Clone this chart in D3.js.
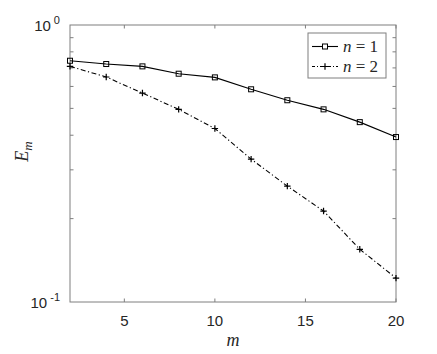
<!DOCTYPE html>
<html>
<head>
<meta charset="utf-8">
<script src="https://cdn.jsdelivr.net/npm/d3@7"></script>
<style>
  body { margin: 0; background: #fff; }
  svg { display: block; }
</style>
</head>
<body>
<svg id="chart" width="437" height="354"></svg>
<script>
const mValues = [2, 4, 6, 8, 10, 12, 14, 16, 18, 20];
const errN1 = [0.743, 0.723, 0.709, 0.667, 0.647, 0.586, 0.535, 0.496, 0.446, 0.394];
const errN2 = [0.709, 0.649, 0.568, 0.496, 0.423, 0.328, 0.262, 0.213, 0.155, 0.122];
const xTicks = [5, 10, 15, 20];
const yMajor = [0.1, 1];
const yMinor = [0.2, 0.3, 0.4, 0.5, 0.6, 0.7, 0.8, 0.9];

const margin = { top: 25, right: 41, bottom: 52, left: 70 };
const width = 437 - margin.left - margin.right;
const height = 354 - margin.top - margin.bottom;
const axisColor = "#7f7f7f";
const tickLen = 3.5;
const serif = "Liberation Serif, Times New Roman, serif";
const sans = "Liberation Sans, Arial, sans-serif";

const svg = d3.select("#chart");
const g = svg.append("g").attr("transform", `translate(${margin.left},${margin.top})`);

const x = d3.scaleLinear().domain([2, 20]).range([0, width]);
const y = d3.scaleLog().domain([0.1, 1]).range([height, 0]);

// frame
g.append("rect")
    .attr("width", width).attr("height", height)
    .attr("fill", "none").attr("stroke", axisColor).attr("stroke-width", 1);

// x ticks, bottom and top
xTicks.forEach(t => {
    g.append("line").attr("x1", x(t)).attr("x2", x(t)).attr("y1", height).attr("y2", height - tickLen)
        .attr("stroke", axisColor);
    g.append("line").attr("x1", x(t)).attr("x2", x(t)).attr("y1", 0).attr("y2", tickLen)
        .attr("stroke", axisColor);
    g.append("text")
        .attr("x", x(t)).attr("y", height + 24)
        .attr("text-anchor", "middle")
        .style("font-family", sans)
        .style("font-size", "15px")
        .style("fill", "#262626")
        .text(t);
});

// y minor ticks, left and right
yMinor.forEach(t => {
    g.append("line").attr("x1", 0).attr("x2", tickLen).attr("y1", y(t)).attr("y2", y(t))
        .attr("stroke", axisColor);
    g.append("line").attr("x1", width).attr("x2", width - tickLen).attr("y1", y(t)).attr("y2", y(t))
        .attr("stroke", axisColor);
});

// y labels 10^0 and 10^-1
yMajor.forEach(t => {
    const txt = g.append("text")
        .attr("x", -10).attr("y", y(t) + 6)
        .attr("text-anchor", "end")
        .style("font-family", sans)
        .style("font-size", "15px")
        .style("fill", "#262626");
    txt.append("tspan").text("10");
    txt.append("tspan")
        .attr("dy", -7)
        .style("font-size", "11px")
        .text(" " + Math.round(Math.log10(t)));
});

// series
const pairs1 = mValues.map((m, i) => [m, errN1[i]]);
const pairs2 = mValues.map((m, i) => [m, errN2[i]]);
const line = d3.line().x(d => x(d[0])).y(d => y(d[1]));

g.append("path").datum(pairs1).attr("d", line)
    .attr("fill", "none").attr("stroke", "#000").attr("stroke-width", 1.1);
g.append("path").datum(pairs2).attr("d", line)
    .attr("fill", "none").attr("stroke", "#000").attr("stroke-width", 1.1)
    .attr("stroke-dasharray", "5,2.5,1.2,2.5");

const sq = 5;
g.selectAll(".sq").data(pairs1).join("rect")
    .attr("x", d => x(d[0]) - sq / 2).attr("y", d => y(d[1]) - sq / 2)
    .attr("width", sq).attr("height", sq)
    .attr("fill", "none").attr("stroke", "#000").attr("stroke-width", 1);

const ps = 3.2;
g.selectAll(".plus").data(pairs2).join("path")
    .attr("d", d => `M${x(d[0]) - ps},${y(d[1])}H${x(d[0]) + ps}M${x(d[0])},${y(d[1]) - ps}V${y(d[1]) + ps}`)
    .attr("stroke", "#000").attr("stroke-width", 1.2);

// legend
const lg = svg.append("g").attr("transform", "translate(308,33)");
lg.append("rect").attr("width", 78).attr("height", 45)
    .attr("fill", "#fff").attr("stroke", axisColor).attr("stroke-width", 1);
const rows = [{ n: 1, dash: null, y: 13.5 }, { n: 2, dash: "3,2,1,2", y: 33.5 }];
rows.forEach(r => {
    lg.append("line").attr("x1", 4).attr("x2", 30).attr("y1", r.y).attr("y2", r.y)
        .attr("stroke", "#000").attr("stroke-width", 1.1)
        .attr("stroke-dasharray", r.dash);
    if (r.n === 1) {
        lg.append("rect").attr("x", 17 - sq / 2).attr("y", r.y - sq / 2)
            .attr("width", sq).attr("height", sq)
            .attr("fill", "#fff").attr("stroke", "#000");
    } else {
        lg.append("path").attr("d", `M${17 - ps},${r.y}H${17 + ps}M17,${r.y - ps}V${r.y + ps}`)
            .attr("stroke", "#000").attr("stroke-width", 1.2);
    }
    const t = lg.append("text").attr("x", 35).attr("y", r.y + 5.5)
        .style("font-family", serif)
        .style("font-size", "17px").style("fill", "#262626");
    t.append("tspan").style("font-style", "italic").text("n");
    t.append("tspan").text(" = " + r.n);
});

// axis titles
g.append("text")
    .attr("x", width / 2).attr("y", height + 44)
    .attr("text-anchor", "middle")
    .style("font-family", serif)
    .style("font-style", "italic").style("font-size", "18px")
    .style("fill", "#262626")
    .text("m");

const yt = svg.append("text")
    .attr("transform", `translate(28,${margin.top + height / 2 - 12}) rotate(-90)`)
    .attr("text-anchor", "middle")
    .style("font-family", serif)
    .style("font-style", "italic").style("font-size", "18px")
    .style("fill", "#262626");
yt.append("tspan").text("E");
yt.append("tspan").attr("dy", 4).style("font-size", "13px").text("m");
</script>
</body>
</html>
